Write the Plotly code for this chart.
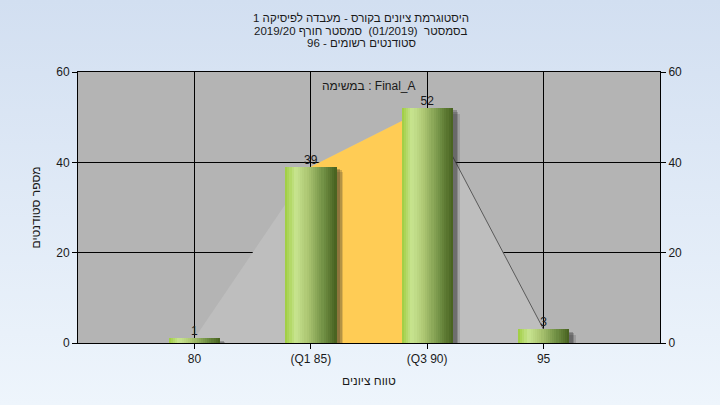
import base64
import plotly.graph_objects as go

# ---------------- data ----------------
categories = ["80", "(Q1 85)", "(Q3 90)", "95"]
counts = [1, 39, 52, 3]
q_range = [1, 2]          # indices of Q1 and Q3 categories (highlighted span)
tail_range = [2, 3]       # segment drawn with an outline
y_ticks = [0, 20, 40, 60]

title_lines = [
    "היסטוגרמת ציונים בקורס - מעבדה לפיסיקה 1",
    "בסמסטר  (01/2019)  סמסטר חורף 2019/20",
    "סטודנטים רשומים - 96",
]
x_title = "טווח ציונים"
y_title = "מספר סטודנטים"
note_text = "במשימה : Final_A"

FONT = "Liberation Sans, Arial, DejaVu Sans, sans-serif"
TXT = "#1a1a1a"
xs = list(range(len(categories)))

# plot-area geometry (pixels)
W, H = 720, 405
ML, MR, MT, MB = 78, 60, 72, 62
PW, PH = W - ML - MR, H - MT - MB


def py(ypix):
    return 1 + (MT - ypix) / PH


def px(xpix):
    return (xpix - ML) / PW


fig = go.Figure()

# light-gray area for the whole distribution
fig.add_trace(go.Scatter(x=xs, y=counts, mode="lines", fill="tozeroy",
                         fillcolor="#bebebe", line=dict(width=0),
                         hoverinfo="skip", showlegend=False))
# yellow interquartile area
fig.add_trace(go.Scatter(x=[xs[i] for i in q_range], y=[counts[i] for i in q_range],
                         mode="lines", fill="tozeroy", fillcolor="#ffcc55",
                         line=dict(width=0), hoverinfo="skip", showlegend=False))
# outline segment
fig.add_trace(go.Scatter(x=[xs[i] for i in tail_range], y=[counts[i] for i in tail_range],
                         mode="lines", line=dict(color="#5a5a5a", width=1),
                         hoverinfo="skip", showlegend=False))

# bars (on the overlaying y2 so they sit above the areas): shadow + gradient slices
BW = 0.44
for dx, dy, a in [(0.06, 1.2, 0.16), (0.045, 0.8, 0.22), (0.035, 0.5, 0.28)]:
    fig.add_trace(go.Bar(x=xs, y=[max(v - dy, 0) for v in counts], width=BW, yaxis="y2",
                         offset=-BW / 2 + dx,
                         marker=dict(color=f"rgba(40,40,40,{a})", line=dict(width=0)),
                         hoverinfo="skip", showlegend=False))

stops = [(0.0, (158, 204, 62)), (0.2, (201, 229, 145)), (0.45, (170, 196, 112)),
         (0.75, (112, 143, 68)), (1.0, (70, 96, 30))]


def grad(t):
    for (p0, c0), (p1, c1) in zip(stops[:-1], stops[1:]):
        if p0 <= t <= p1:
            f = (t - p0) / (p1 - p0)
            return "rgb(%d,%d,%d)" % tuple(round(c0[j] + (c1[j] - c0[j]) * f) for j in range(3))
    return "rgb(%d,%d,%d)" % stops[-1][1]


N = 24
sw = BW / N
for i in range(N):
    fig.add_trace(go.Bar(x=xs, y=counts, width=sw * 1.05, offset=-BW / 2 + i * sw, yaxis="y2",
                         marker=dict(color=grad((i + 0.5) / N), line=dict(width=0)),
                         hoverinfo="skip", showlegend=False))

# value labels
fig.add_trace(go.Scatter(x=xs, y=counts, mode="text", text=[str(v) for v in counts],
                         textposition="top center", yaxis="y2",
                         textfont=dict(family=FONT, size=12, color=TXT),
                         hoverinfo="skip", showlegend=False))

# background gradient image
svg = ('<svg xmlns="http://www.w3.org/2000/svg" width="10" height="100" viewBox="0 0 10 100" '
       'preserveAspectRatio="none"><defs><linearGradient id="g" x1="0" y1="0" x2="0" y2="1">'
       '<stop offset="0" stop-color="#d2dff1"/><stop offset="1" stop-color="#eef5fc"/>'
       '</linearGradient></defs><rect width="10" height="100" fill="url(#g)"/></svg>')
src = "data:image/svg+xml;base64," + base64.b64encode(svg.encode()).decode()

axis_common = dict(showline=True, linecolor="black", linewidth=1, ticks="outside",
                   ticklen=5, tickcolor="black", automargin=False,
                   tickfont=dict(family=FONT, size=12, color=TXT))

annotations = [
    dict(text=line, xref="paper", yref="paper", x=px(361), y=py(yp),
         xanchor="center", yanchor="middle", showarrow=False,
         font=dict(family=FONT, size=11.5, color=TXT))
    for line, yp in zip(title_lines, [18, 31, 43])
]
annotations += [
    dict(text=note_text, xref="paper", yref="paper", x=0.5, y=py(86),
         xanchor="center", yanchor="middle", showarrow=False,
         font=dict(family=FONT, size=12, color=TXT)),
    dict(text=x_title, xref="paper", yref="paper", x=0.5, y=py(381),
         xanchor="center", yanchor="middle", showarrow=False,
         font=dict(family=FONT, size=12, color=TXT)),
    dict(text=y_title, xref="paper", yref="paper", x=px(35), y=0.5,
         xanchor="center", yanchor="middle", textangle=-90, showarrow=False,
         font=dict(family=FONT, size=12, color=TXT)),
]

fig.update_layout(
    width=W, height=H,
    margin=dict(l=ML, r=MR, t=MT, b=MB, pad=0, autoexpand=False),
    paper_bgcolor="#e2ebf7",
    plot_bgcolor="rgba(0,0,0,0)",
    barmode="overlay",
    bargap=0,
    font=dict(family=FONT, size=12, color=TXT),
    xaxis=dict(range=[-1, 4], tickvals=xs, ticktext=categories, mirror=True,
               showgrid=True, gridcolor="black", gridwidth=1, zeroline=False, **axis_common),
    yaxis=dict(range=[0, 60], tickvals=y_ticks, showgrid=True, gridcolor="black",
               gridwidth=1, zeroline=False, **axis_common),
    yaxis2=dict(range=[0, 60], tickvals=y_ticks, overlaying="y", side="right",
                showgrid=False, zeroline=False, **axis_common),
    images=[dict(source=src, xref="paper", yref="paper", x=-ML / PW, y=1 + MT / PH,
                 sizex=W / PW, sizey=H / PH, xanchor="left", yanchor="top",
                 sizing="stretch", layer="below")],
    shapes=[dict(type="rect", xref="paper", yref="paper", x0=0, x1=1, y0=0, y1=1,
                 fillcolor="#b4b4b4", line=dict(width=0), layer="below")],
    annotations=annotations,
)

fig.write_html("out.html", config={"displayModeBar": False},
               post_script="document.body.style.margin='0';document.body.style.padding='0';")
